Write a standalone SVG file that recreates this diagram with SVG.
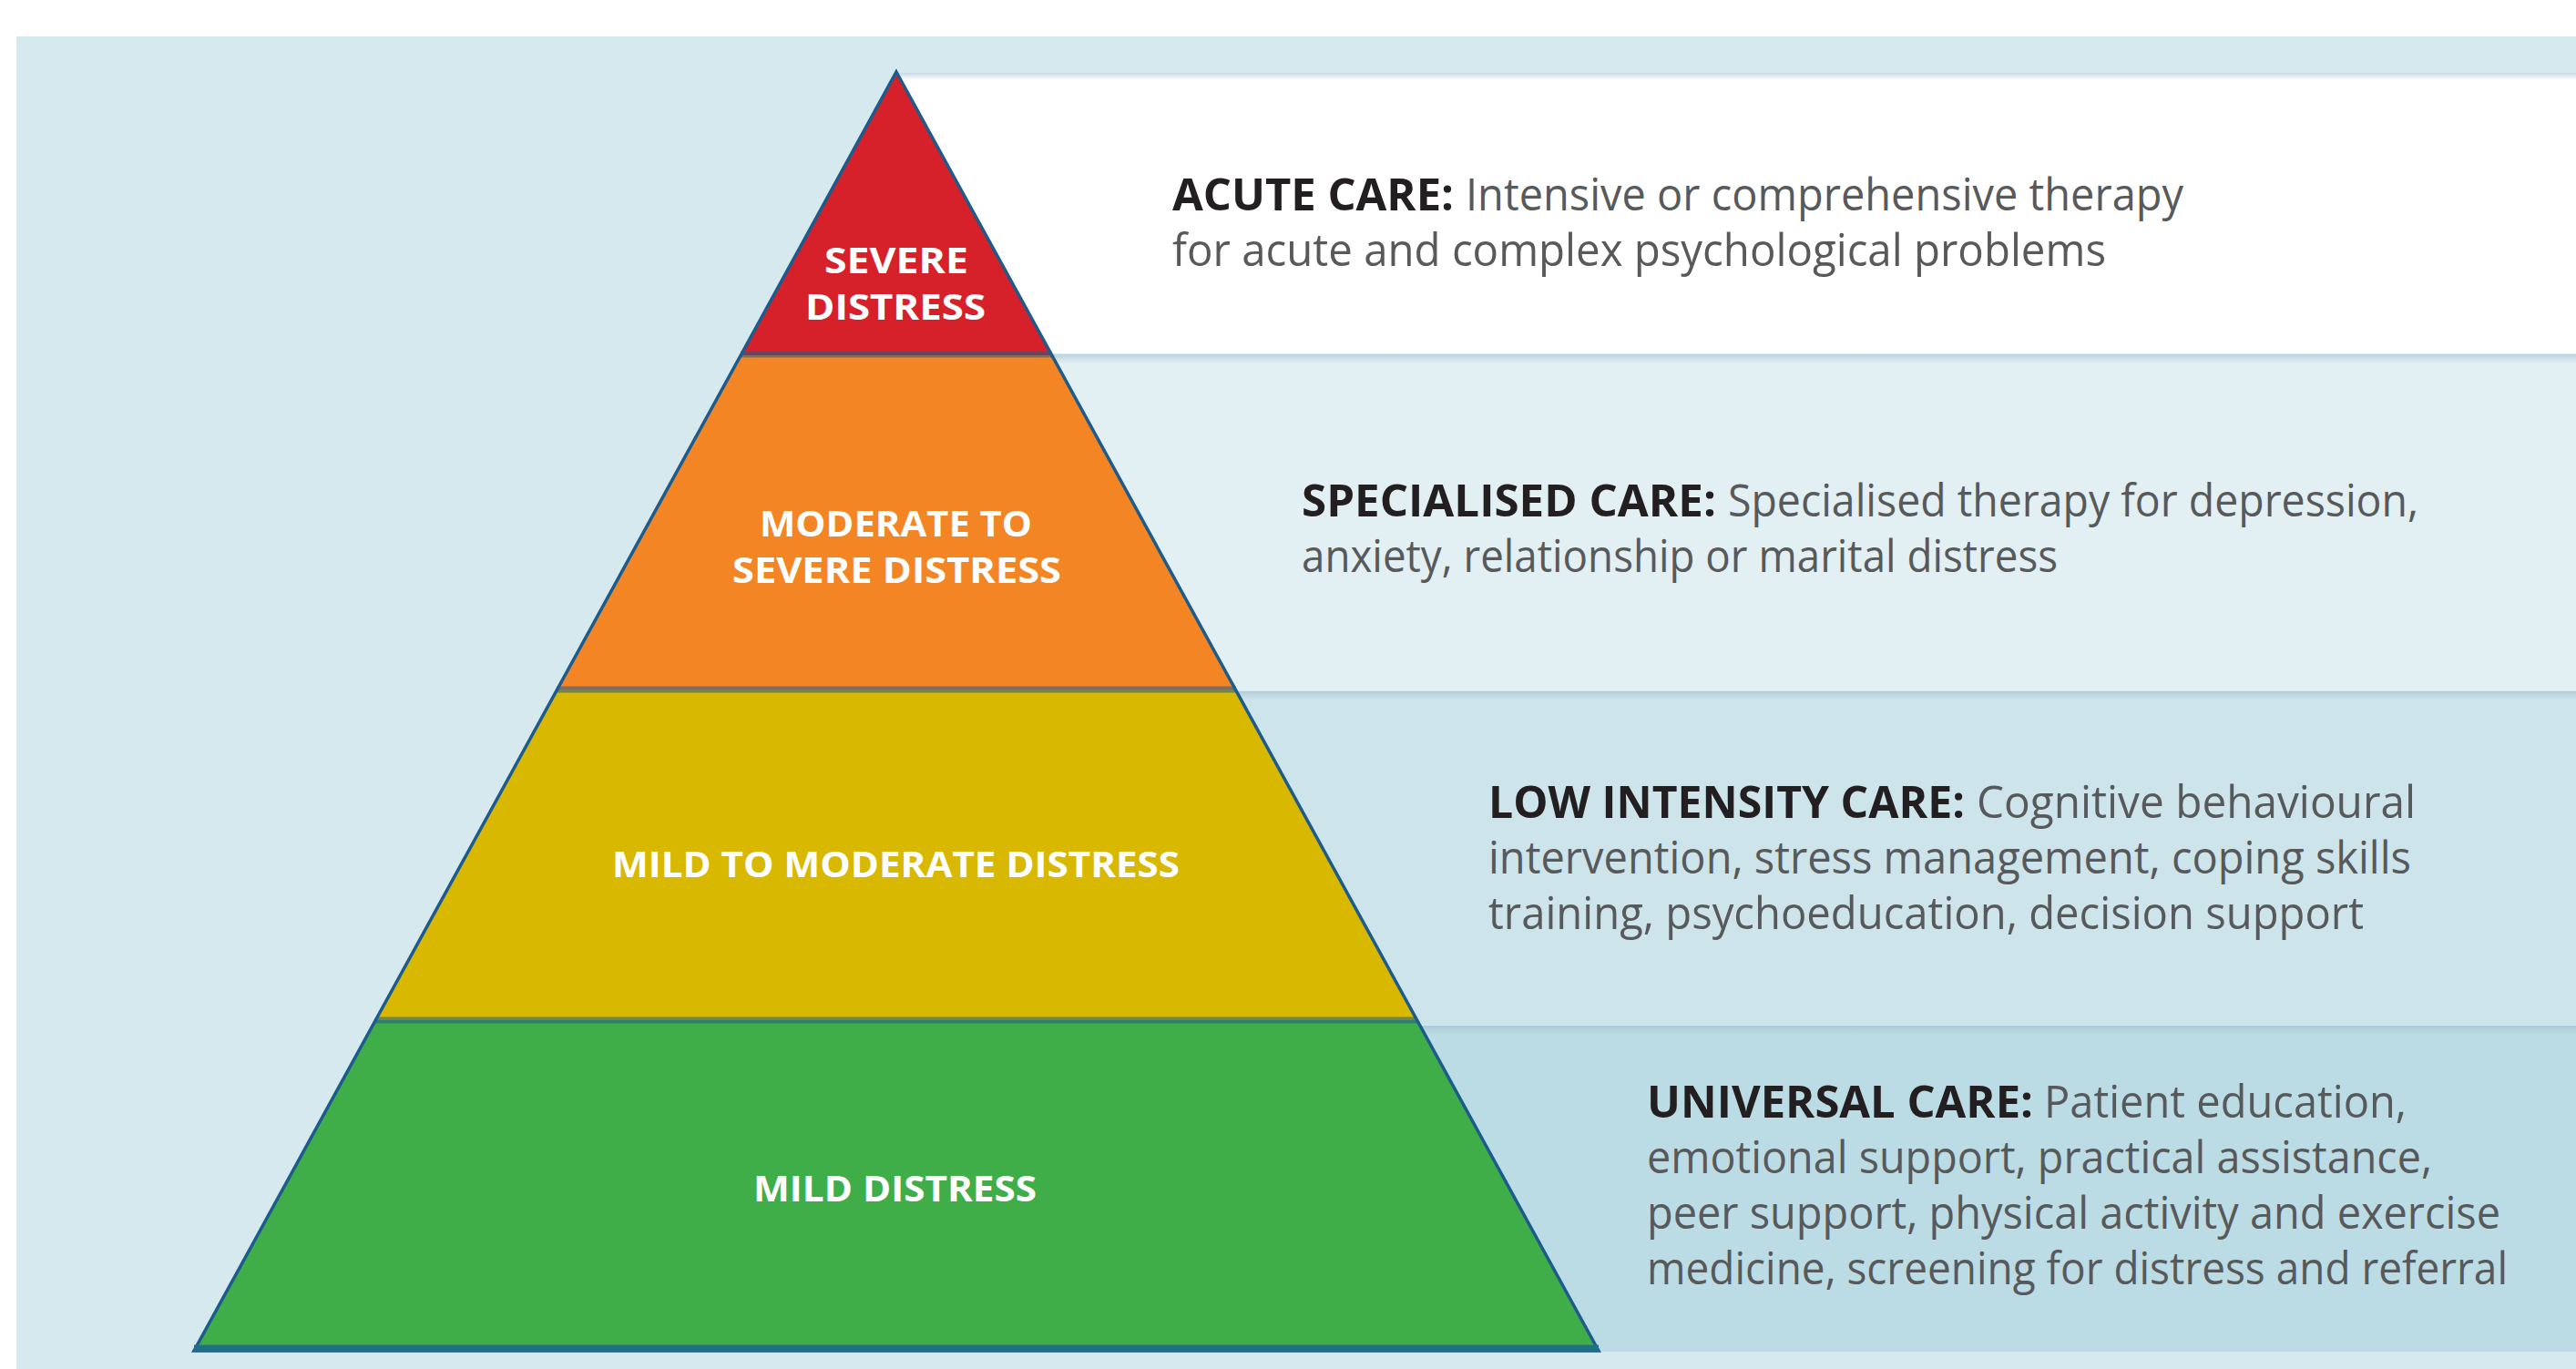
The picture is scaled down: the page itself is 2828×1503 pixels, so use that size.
<svg xmlns="http://www.w3.org/2000/svg" width="2828" height="1503" viewBox="0 0 2828 1503">
  <defs>
    <style>
      .body { font-family: "Open Sans", "Noto Sans", "Liberation Sans", sans-serif; font-size: 49px; fill: #58595b; }
      .head { font-family: "Open Sans", "Noto Sans", "Liberation Sans", sans-serif; font-size: 49px; font-weight: 700; fill: #231f20; }
      .tier { font-family: "Open Sans", "Noto Sans", "Liberation Sans", sans-serif; font-size: 40px; font-weight: 700; fill: #ffffff; }
      .edge { fill: none; stroke: #1d5b8c; stroke-width: 3.5; stroke-linejoin: miter; }
      .seam { stroke: #1d5b8c; stroke-width: 7; stroke-opacity: 0.55; }
    </style>
    <linearGradient id="bandShade" x1="0" y1="0" x2="0" y2="1">
      <stop offset="0" stop-color="#9fbccb" stop-opacity="0.55"/>
      <stop offset="1" stop-color="#9fbccb" stop-opacity="0"/>
    </linearGradient>
  </defs>

  <!-- page -->
  <rect x="0" y="0" width="2828" height="1503" fill="#ffffff"/>
  <rect x="18" y="40" width="2810" height="1463" fill="#d6e9ef"/>

  <!-- care bands behind the pyramid -->
  <g id="bands">
    <rect id="band-acute" x="985" y="80" width="1843" height="308" fill="#ffffff"/>
    <rect x="985" y="80" width="1843" height="8" fill="url(#bandShade)"/>
    <rect id="band-specialised" x="985" y="389" width="1843" height="369" fill="#e2eff3"/>
    <rect x="985" y="389" width="1843" height="10" fill="url(#bandShade)"/>
    <rect id="band-low" x="985" y="759" width="1843" height="366" fill="#cde4eb"/>
    <rect x="985" y="759" width="1843" height="10" fill="url(#bandShade)"/>
    <rect id="band-universal" x="985" y="1126" width="1843" height="358" fill="#bcdce5"/>
    <rect x="985" y="1126" width="1843" height="10" fill="url(#bandShade)"/>
  </g>

  <!-- pyramid tiers -->
  <g id="tier-severe">
    <polygon points="984,79 1155,390 813,390" fill="#d6212a"/>
    <text class="tier" x="905" y="300" textLength="158" lengthAdjust="spacingAndGlyphs">SEVERE</text>
    <text class="tier" x="884" y="351" textLength="198" lengthAdjust="spacingAndGlyphs">DISTRESS</text>
  </g>
  <g id="tier-moderate-severe">
    <polygon points="813,390 1155,390 1357,757 611,757" fill="#f38524"/>
    <text class="tier" x="834" y="589" textLength="299" lengthAdjust="spacingAndGlyphs">MODERATE TO</text>
    <text class="tier" x="804" y="640" textLength="361" lengthAdjust="spacingAndGlyphs">SEVERE DISTRESS</text>
  </g>
  <g id="tier-mild-moderate">
    <polygon points="611,757 1357,757 1556,1120 412,1120" fill="#d8b800"/>
    <text class="tier" x="672" y="963" textLength="623" lengthAdjust="spacingAndGlyphs">MILD TO MODERATE DISTRESS</text>
  </g>
  <g id="tier-mild">
    <polygon points="412,1120 1556,1120 1755,1483 213,1483" fill="#3fae49"/>
    <text class="tier" x="827" y="1319" textLength="311" lengthAdjust="spacingAndGlyphs">MILD DISTRESS</text>
  </g>

  <!-- pyramid outline and tier seams -->
  <g id="connectors">
    <line class="seam" x1="813" y1="389" x2="1155" y2="389"/>
    <line class="seam" x1="611" y1="757" x2="1357" y2="757"/>
    <line class="seam" x1="412" y1="1120" x2="1556" y2="1120"/>
    <polygon class="edge" points="984,79 1755,1483 213,1483"/>
    <line x1="213" y1="1480" x2="1755" y2="1480" stroke="#1f6f86" stroke-width="7"/>
  </g>

  <!-- care descriptions -->
  <g id="text-acute">
    <text class="head" x="1287" y="231" textLength="309" lengthAdjust="spacingAndGlyphs">ACUTE CARE:</text>
    <text class="body" x="1609" y="231" textLength="788" lengthAdjust="spacingAndGlyphs">Intensive or comprehensive therapy</text>
    <text class="body" x="1287" y="292" textLength="1025" lengthAdjust="spacingAndGlyphs">for acute and complex psychological problems</text>
  </g>
  <g id="text-specialised">
    <text class="head" x="1429" y="567" textLength="455" lengthAdjust="spacingAndGlyphs">SPECIALISED CARE:</text>
    <text class="body" x="1897" y="567" textLength="758" lengthAdjust="spacingAndGlyphs">Specialised therapy for depression,</text>
    <text class="body" x="1429" y="628" textLength="830" lengthAdjust="spacingAndGlyphs">anxiety, relationship or marital distress</text>
  </g>
  <g id="text-low">
    <text class="head" x="1634" y="898" textLength="523" lengthAdjust="spacingAndGlyphs">LOW INTENSITY CARE:</text>
    <text class="body" x="2170" y="898" textLength="482" lengthAdjust="spacingAndGlyphs">Cognitive behavioural</text>
    <text class="body" x="1634" y="959" textLength="1013" lengthAdjust="spacingAndGlyphs">intervention, stress management, coping skills</text>
    <text class="body" x="1634" y="1020" textLength="961" lengthAdjust="spacingAndGlyphs">training, psychoeducation, decision support</text>
  </g>
  <g id="text-universal">
    <text class="head" x="1808" y="1227" textLength="424" lengthAdjust="spacingAndGlyphs">UNIVERSAL CARE:</text>
    <text class="body" x="2244" y="1227" textLength="398" lengthAdjust="spacingAndGlyphs">Patient education,</text>
    <text class="body" x="1808" y="1288" textLength="862" lengthAdjust="spacingAndGlyphs">emotional support, practical assistance,</text>
    <text class="body" x="1808" y="1349" textLength="937" lengthAdjust="spacingAndGlyphs">peer support, physical activity and exercise</text>
    <text class="body" x="1808" y="1410" textLength="945" lengthAdjust="spacingAndGlyphs">medicine, screening for distress and referral</text>
  </g>
</svg>
